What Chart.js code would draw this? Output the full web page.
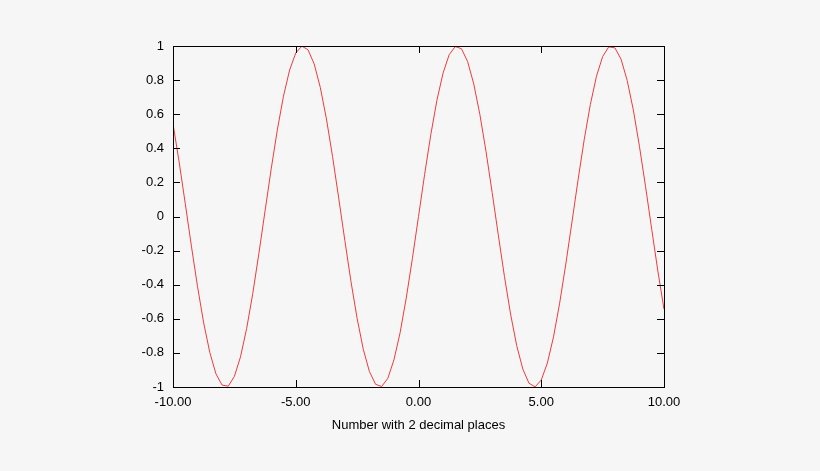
<!DOCTYPE html>
<html>
<head>
<meta charset="utf-8">
<script src="https://cdn.jsdelivr.net/npm/chart.js"></script>
<style>
  html, body { margin: 0; background: #f6f6f6; }
  #wrap { width: 820px; height: 471px; }
</style>
</head>
<body>
<div id="wrap"><canvas id="chartLine"></canvas></div>
<script>
const xs = [-10,-9.75,-9.5,-9.25,-9,-8.75,-8.5,-8.25,-8,-7.75,-7.5,-7.25,-7,-6.75,-6.5,-6.25,-6,-5.75,-5.5,-5.25,
  -5,-4.75,-4.5,-4.25,-4,-3.75,-3.5,-3.25,-3,-2.75,-2.5,-2.25,-2,-1.75,-1.5,-1.25,-1,-0.75,-0.5,-0.25,
  0,0.25,0.5,0.75,1,1.25,1.5,1.75,2,2.25,2.5,2.75,3,3.25,3.5,3.75,4,4.25,4.5,4.75,
  5,5.25,5.5,5.75,6,6.25,6.5,6.75,7,7.25,7.5,7.75,8,8.25,8.5,8.75,9,9.25,9.5,9.75,10];
const ys = [0.544,0.320,0.075,-0.174,-0.412,-0.625,-0.798,-0.923,-0.989,-0.995,-0.938,-0.823,-0.657,-0.451,-0.215,0.033,0.279,0.508,0.706,0.859,
  0.959,0.999,0.978,0.895,0.757,0.572,0.351,0.108,-0.141,-0.382,-0.598,-0.778,-0.909,-0.984,-0.997,-0.949,-0.841,-0.682,-0.479,-0.247,
  0,0.247,0.479,0.682,0.841,0.949,0.997,0.984,0.909,0.778,0.598,0.382,0.141,-0.108,-0.351,-0.572,-0.757,-0.895,-0.978,-0.999,
  -0.959,-0.859,-0.706,-0.508,-0.279,-0.033,0.215,0.451,0.657,0.823,0.938,0.995,0.989,0.923,0.798,0.625,0.412,0.174,-0.075,-0.320,-0.544];
const xTicks = [-10, -5, 0, 5, 10];
const yTicks = [-1, -0.8, -0.6, -0.4, -0.2, 0, 0.2, 0.4, 0.6, 0.8, 1];
const xTitle = "Number with 2 decimal places";

const points = xs.map((x, i) => ({ x: x, y: ys[i] }));

// frame with inward ticks on all four sides, gnuplot style
const framePlugin = {
  id: "frame",
  afterDraw(chart) {
    const ctx = chart.ctx, a = chart.chartArea;
    const sx = chart.scales.x, sy = chart.scales.y;
    ctx.save();
    ctx.strokeStyle = "#000";
    ctx.lineWidth = 1;
    ctx.strokeRect(a.left + 0.5, a.top + 0.5, a.right - a.left, a.bottom - a.top);
    ctx.beginPath();
    xTicks.forEach(v => {
      const px = Math.round(sx.getPixelForValue(v)) + 0.5;
      ctx.moveTo(px, a.bottom); ctx.lineTo(px, a.bottom - 7);
      ctx.moveTo(px, a.top); ctx.lineTo(px, a.top + 7);
    });
    yTicks.forEach(v => {
      const py = Math.round(sy.getPixelForValue(v)) + 0.5;
      ctx.moveTo(a.left, py); ctx.lineTo(a.left + 7, py);
      ctx.moveTo(a.right, py); ctx.lineTo(a.right - 7, py);
    });
    ctx.stroke();
    ctx.restore();
  }
};

new Chart(document.getElementById("chartLine"), {
  type: "line",
  data: {
    datasets: [{
      data: points,
      borderColor: "#f03a3a",
      borderWidth: 1,
      pointRadius: 0,
      tension: 0,
      fill: false
    }]
  },
  options: {
    responsive: true,
    maintainAspectRatio: false,
    animation: false,
    layout: { padding: { top: 46, right: 156, left: 0, bottom: 38 } },
    plugins: { legend: { display: false }, tooltip: { enabled: false } },
    scales: {
      x: {
        type: "linear", min: -10, max: 10,
        afterBuildTicks: s => { s.ticks = xTicks.map(v => ({ value: v })); },
        afterFit: s => { s.height = 46; },
        grid: { display: false, drawTicks: false },
        border: { display: false },
        ticks: { color: "#000", padding: 8, maxRotation: 0, font: { family: "Liberation Sans", size: 13 },
          callback: v => v.toFixed(2) },
        title: { display: true, text: xTitle, color: "#000", padding: { top: 4, bottom: 0 },
          font: { family: "Liberation Sans", size: 13 } }
      },
      y: {
        min: -1, max: 1,
        afterBuildTicks: s => { s.ticks = yTicks.map(v => ({ value: v })); },
        afterFit: s => { s.width = 173; },
        grid: { display: false, drawTicks: false },
        border: { display: false },
        ticks: { color: "#000", padding: 9, font: { family: "Liberation Sans", size: 13 },
          callback: v => String(Math.round(v * 10) / 10) }
      }
    }
  },
  plugins: [framePlugin]
});
</script>
</body>
</html>
